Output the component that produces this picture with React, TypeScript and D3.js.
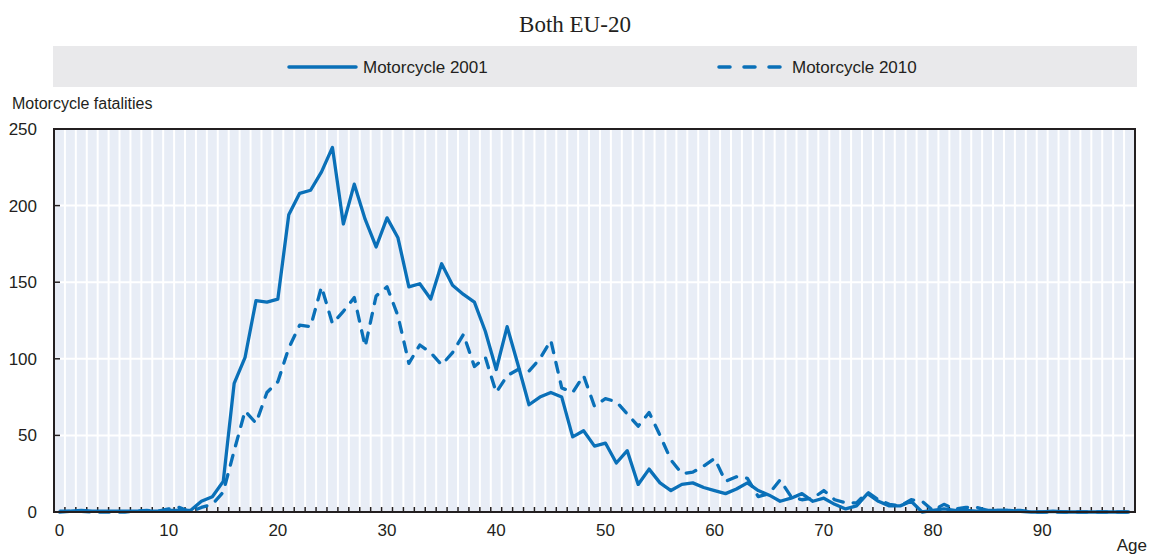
import React from 'react';
import * as d3 from 'd3';

// ages 0..98 on the x axis
const ages = d3.range(0, 99);

const moto2001 = [
  0.5, 0.5, 1, 0.5, 0.5, 0.5, 0.5, 0.5, 0.5, 0.5,
  1, 1, 1, 7, 10, 20, 84, 101, 138, 137,
  139, 194, 208, 210, 222, 238, 188, 214, 191, 173,
  192, 179, 147, 149, 139, 162, 148, 142, 137, 118,
  93, 121, 96, 70, 75, 78, 75, 49, 53, 43,
  45, 32, 40, 18, 28, 19, 14, 18, 19, 16,
  14, 12, 15, 19, 14, 11, 7, 9, 12, 7,
  9, 5, 2, 4, 12, 7, 4, 4, 7, 0,
  1, 2, 1, 1, 0.5, 1, 1, 1, 0.5, 0,
  0, 0.5, 0, 0, 0, 0, 0, 0, 0
];

const moto2010 = [
  0, 0.5, 0.5, 0, 0, 0, 0, 0.5, 1, 0.5,
  2, 3, 0, 3, 5, 13, 40, 66, 58, 78,
  85, 107, 122, 121, 147, 123, 131, 140, 108, 141,
  147, 128, 97, 109, 104, 96, 104, 116, 95, 101,
  78, 89, 93, 92, 100, 112, 81, 78, 89, 69,
  74, 72, 64, 56, 65, 50, 34, 25, 26, 30,
  35, 20, 23, 22, 10, 12, 21, 10, 8, 9,
  14, 8, 6, 6, 13, 8, 5, 4, 8, 7,
  1, 5, 2, 3, 3, 1, 1, 1, 1, 0,
  0, 0, 0, 0, 0, 0, 0, 0, 0
];

const yTicks = [0, 50, 100, 150, 200, 250];
const xTicks = [0, 10, 20, 30, 40, 50, 60, 70, 80, 90];

const W = 1150;
const H = 554;
const plot = { left: 54, right: 1135, top: 129, bottom: 512 };
const blue = '#0a70b8';
const ink = '#231f20';
const sans = "'Liberation Sans Narrow', 'Arial Narrow', 'Liberation Sans', sans-serif";

export default function App() {
  const x = d3.scaleLinear().domain([-0.5, 98.5]).range([plot.left, plot.right]);
  const y = d3.scaleLinear().domain([0, 250]).range([plot.bottom, plot.top]);

  const line = d3.line<number>()
    .x((d, i) => x(ages[i]))
    .y(d => y(d));

  const bounds = ages.slice(0, -1).map(a => a + 0.5);

  return (
    <svg width={W} height={H} style={{ position: 'absolute', left: 0, top: 0, background: '#fff' }}>
      <text x={575} y={32} textAnchor="middle" fontFamily="'Liberation Serif', 'Times New Roman', serif" fontSize={23} fill={ink}>
        Both EU-20
      </text>

      {/* legend */}
      <rect x={53} y={46} width={1084} height={41} fill="#e9e9eb" />
      <line x1={289} x2={356} y1={67} y2={67} stroke={blue} strokeWidth={3.5} strokeLinecap="round" />
      <text x={363} y={73} fontFamily={sans} fontSize={17} fill={ink}>Motorcycle 2001</text>
      <line x1={719} x2={785} y1={67} y2={67} stroke={blue} strokeWidth={3.5} strokeLinecap="round" strokeDasharray="11,14" />
      <text x={792} y={73} fontFamily={sans} fontSize={17} fill={ink}>Motorcycle 2010</text>

      <text x={12} y={109} fontFamily={sans} fontSize={16} fill={ink}>Motorcycle fatalities</text>

      {/* plot background and grid */}
      <rect x={plot.left} y={plot.top} width={plot.right - plot.left} height={plot.bottom - plot.top} fill="#e8edf6" />
      {bounds.map(b => (
        <line key={'v' + b} x1={x(b)} x2={x(b)} y1={plot.top} y2={plot.bottom} stroke="#fff" strokeWidth={2} />
      ))}
      {yTicks.slice(1, -1).map(t => (
        <line key={'h' + t} x1={plot.left} x2={plot.right} y1={y(t)} y2={y(t)} stroke="#fff" strokeWidth={2} />
      ))}

      {/* ticks */}
      {bounds.map(b => (
        <line key={'t' + b} x1={x(b)} x2={x(b)} y1={plot.bottom} y2={plot.bottom - 5} stroke={ink} strokeWidth={1.5} />
      ))}
      {yTicks.slice(1, -1).map(t => (
        <line key={'yt' + t} x1={plot.left} x2={plot.left + 6} y1={y(t)} y2={y(t)} stroke={ink} strokeWidth={1.5} />
      ))}

      {/* series */}
      <path d={line(moto2010) || ''} fill="none" stroke={blue} strokeWidth={3.3} strokeDasharray="10,10" strokeLinecap="round" strokeLinejoin="round" />
      <path d={line(moto2001) || ''} fill="none" stroke={blue} strokeWidth={3.3} strokeLinejoin="round" />

      {/* frame */}
      <rect x={plot.left} y={plot.top} width={plot.right - plot.left} height={plot.bottom - plot.top} fill="none" stroke={ink} strokeWidth={2} />

      {/* axis labels */}
      {yTicks.map(t => (
        <text key={'yl' + t} x={37} y={y(t) + 6} textAnchor="end" fontFamily={sans} fontSize={17} fill={ink}>{t}</text>
      ))}
      {xTicks.map(t => (
        <text key={'xl' + t} x={x(t)} y={536} textAnchor="middle" fontFamily={sans} fontSize={17} fill={ink}>{t}</text>
      ))}
      <text x={1147} y={551} textAnchor="end" fontFamily={sans} fontSize={17} fill={ink}>Age</text>
    </svg>
  );
}
